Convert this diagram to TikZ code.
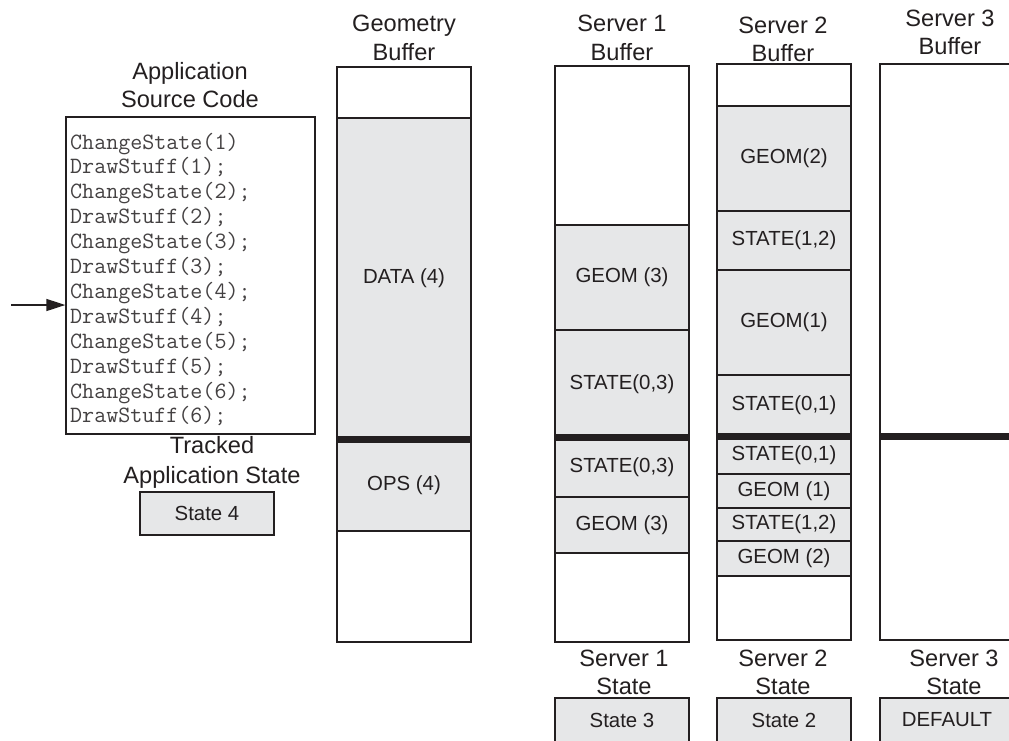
\documentclass[tikz,border=0pt]{standalone}
\usepackage{fontspec}
\setmainfont{Liberation Sans}
\usetikzlibrary{arrows.meta}
\definecolor{ink}{HTML}{231F20}
\definecolor{shade}{HTML}{E6E7E8}
\tikzset{
  buf/.style={draw=ink, line width=1.3pt, fill=white, minimum width=134pt, inner sep=0pt, outer sep=0pt},
  seg/.style={draw=ink, line width=1.3pt, fill=shade, minimum width=134pt, inner sep=0pt, outer sep=0pt,
              font=\fontsize{20.4}{24}\selectfont, text=ink},
  title/.style={align=center, font=\fontsize{23.6}{28.5}\selectfont, text=ink, inner sep=0pt},
  divider/.style={line width=7pt, draw=ink},
  codeline/.style={anchor=base west, inner sep=0pt, font=\fontsize{23.35}{24.9}\ttfamily, text=ink!85},
}
\begin{document}
\begin{tikzpicture}[x=1pt, y=-1pt]
\clip (0,0) rectangle (1009,740);
\fill[white] (0,0) rectangle (1009,740);

% ---------- Application source code ----------
\node[title] (tapp) at (190,85) {Application\\Source Code};
\node[draw=ink, line width=1.3pt, fill=white, minimum width=249pt, minimum height=317pt, inner sep=0pt] (codebox) at (190.5,275.5) {};
\foreach \t [count=\i] in {ChangeState(1),DrawStuff(1);,ChangeState(2);,DrawStuff(2);,ChangeState(3);,DrawStuff(3);,ChangeState(4);,DrawStuff(4);,ChangeState(5);,DrawStuff(5);,ChangeState(6);,DrawStuff(6);}
  \node[codeline] (code\i) at (70,{149+(\i-1)*24.9}) {\t};
\coordinate (arrtail) at (11,305);
\draw[ink, line width=1.3pt, -{Triangle[length=19pt,width=12pt]}] (arrtail) -- (arrtail -| codebox.west);

\node[title, font=\fontsize{23.6}{30}\selectfont] (ttrack) at (212,462) {Tracked\\Application State};
\node[seg, minimum height=43pt] (st4) at (207,513.5) {State 4};

% ---------- Geometry buffer ----------
\node[title] (tgeo) at (404,38) {Geometry\\Buffer};
\node[buf, minimum height=575pt] (geobuf) at (404,354.5) {};
\node[seg, minimum height=321pt] (gdata) at (404,278.5) {DATA (4)};
\node[seg, minimum height=92pt] (gops) at (404,485) {OPS (4)};
\coordinate (gdiv) at (404,439);
\draw[divider] (gdiv -| geobuf.west) -- (gdiv -| geobuf.east);

% ---------- Server 1 ----------
\node[title] (ts1) at (622,38) {Server 1\\Buffer};
\node[buf, minimum height=576pt] (s1buf) at (622,354) {};
\node[seg, minimum height=105pt] (s1a) at (622,277.5) {GEOM (3)};
\node[seg, minimum height=107.5pt] (s1b) at (622,383.75) {STATE(0,3)};
\node[seg, minimum height=59.5pt] (s1c) at (622,467.25) {STATE(0,3)};
\node[seg, minimum height=56pt] (s1d) at (622,525) {GEOM (3)};
\coordinate (s1div) at (622,437.5);
\draw[divider] (s1div -| s1buf.west) -- (s1div -| s1buf.east);
\node[title] (ts1st) at (624,672.5) {Server 1\\State};
\node[seg, minimum height=44pt] (st3) at (622,720) {State 3};

% ---------- Server 2 ----------
\node[title] (ts2) at (783,39.5) {Server 2\\Buffer};
\node[buf, minimum height=576pt] (s2buf) at (784,352) {};
\node[seg, minimum height=105pt] (s2a) at (784,158.5) {GEOM(2)};
\node[seg, minimum height=59pt] (s2b) at (784,240.5) {STATE(1,2)};
\node[seg, minimum height=105pt] (s2c) at (784,322.5) {GEOM(1)};
\node[seg, minimum height=61pt] (s2d) at (784,405.5) {STATE(0,1)};
\node[seg, minimum height=38pt] (s2e) at (784,455) {STATE(0,1)};
\node[seg, minimum height=34pt] (s2f) at (784,491) {GEOM (1)};
\node[seg, minimum height=33pt] (s2g) at (784,524.5) {STATE(1,2)};
\node[seg, minimum height=35pt] (s2h) at (784,558.5) {GEOM (2)};
\coordinate (s2div) at (784,436);
\draw[divider] (s2div -| s2buf.west) -- (s2div -| s2buf.east);
\node[title] (ts2st) at (783,672.5) {Server 2\\State};
\node[seg, minimum height=44pt] (st2) at (784,720) {State 2};

% ---------- Server 3 ----------
\node[title] (ts3) at (950,32.5) {Server 3\\Buffer};
\node[buf, minimum height=576pt] (s3buf) at (947,352) {};
\coordinate (s3div) at (947,436);
\draw[divider] (s3div -| s3buf.west) -- (s3div -| s3buf.east);
\node[title] (ts3st) at (954,672.5) {Server 3\\State};
\node[seg, minimum height=44pt] (stdef) at (947,720) {DEFAULT};
\end{tikzpicture}
\end{document}
